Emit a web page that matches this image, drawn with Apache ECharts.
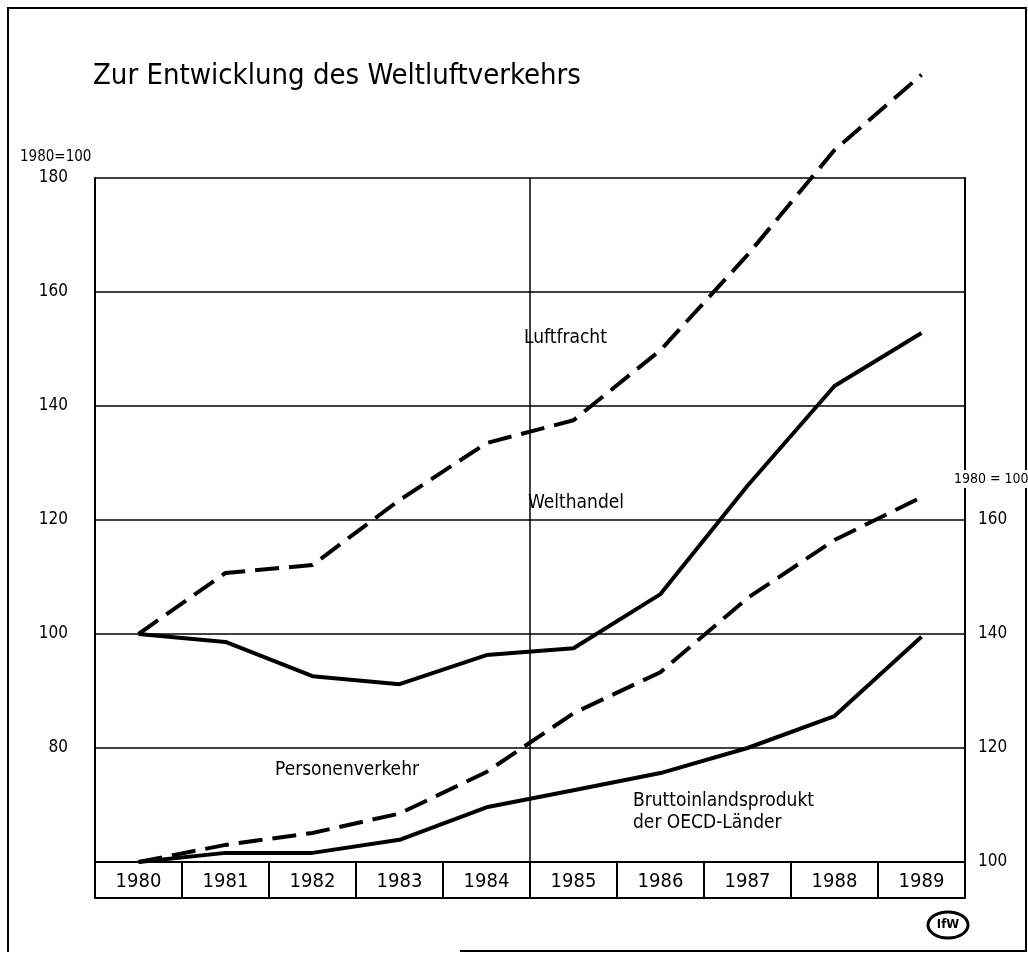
<!DOCTYPE html>
<html>
<head>
<meta charset="utf-8">
<script src="https://cdn.jsdelivr.net/npm/echarts@6/dist/echarts.min.js"></script>
<style>
html,body{margin:0;padding:0;background:#fff;}
#chart{width:1028px;height:954px;}
</style>
</head>
<body>
<div id="chart"></div>
<script>
// ---- data ----
const years = ['1980','1981','1982','1983','1984','1985','1986','1987','1988','1989'];
// left axis (1980=100)
const luftfracht  = [100, 110.7, 112.1, 123.5, 133.5, 137.5, 149.8, 166.5, 184.9, 198.1];
const welthandel  = [100, 98.6, 92.6, 91.2, 96.3, 97.5, 107.0, 126.0, 143.5, 152.8];
// right axis (1980=100)
const personenverkehr = [100, 103.0, 105.1, 108.5, 115.8, 126.1, 133.3, 146.3, 156.5, 164.0];
const bip             = [100, 101.6, 101.6, 103.9, 109.6, 112.6, 115.6, 120.0, 125.6, 139.5];
const leftTicks  = [60, 80, 100, 120, 140, 160, 180];
const rightTicks = [100, 120, 140, 160];

const FONT = '"Liberation Sans Narrow", "DejaVu Sans Condensed", "DejaVu Sans", sans-serif';
const chart = echarts.init(document.getElementById('chart'));

function lineSeries(name, data, yIdx, dashed){
  return {
    name: name, type: 'line', data: data, yAxisIndex: yIdx, xAxisIndex: 0,
    symbol: 'none', smooth: false, clip: false, silent: true,
    lineStyle: {color: '#000', width: 4, type: dashed ? [24, 10] : 'solid', cap: 'butt', join: 'round'},
    z: 5
  };
}

chart.setOption({
  animation: false,
  backgroundColor: '#fff',
  title: {
    text: 'Zur Entwicklung des Weltluftverkehrs',
    left: 88, top: 57,
    textStyle: {fontFamily: FONT, fontSize: 29, fontWeight: 'normal', color: '#000'}
  },
  grid: {left: 95, right: 63, top: 178, bottom: 92, containLabel: false},
  xAxis: [{
    type: 'category', data: years, boundaryGap: true, position: 'bottom',
    axisLine: {show: true, lineStyle: {color: '#000', width: 2}},
    axisTick: {show: true, interval: 0, length: 36, inside: false, lineStyle: {color: '#000', width: 2}},
    axisLabel: {show: true, interval: 0, margin: 10, fontFamily: FONT, fontSize: 20, color: '#000'},
    splitLine: {show: false}
  },{
    type: 'category', data: years, boundaryGap: true, position: 'bottom', offset: 36,
    axisLine: {show: true, lineStyle: {color: '#000', width: 2}},
    axisTick: {show: false}, axisLabel: {show: false}, splitLine: {show: false}
  },{
    // helper axis: only draws the single vertical divider between 1984 and 1985
    type: 'value', min: 0, max: years.length, interval: years.length / 2, position: 'top',
    axisLine: {show: false}, axisTick: {show: false}, axisLabel: {show: false},
    splitLine: {show: true, lineStyle: {color: '#000', width: 1.5}}
  }],
  yAxis: [{
    type: 'value', min: leftTicks[0], max: leftTicks[leftTicks.length-1], interval: 20, position: 'left',
    axisLine: {show: true, lineStyle: {color: '#000', width: 2}},
    axisTick: {show: false},
    axisLabel: {margin: 27, fontFamily: FONT, fontSize: 17, color: '#000',
      formatter: function(v){ return (v === leftTicks[0]) ? '' : String(v); }},
    splitLine: {show: true, lineStyle: {color: '#000', width: 1.5}}
  },{
    type: 'value', min: rightTicks[0], max: rightTicks[0] + 120, interval: 20, position: 'right',
    axisLine: {show: true, lineStyle: {color: '#000', width: 2}},
    axisTick: {show: false},
    axisLabel: {margin: 13, fontFamily: FONT, fontSize: 17, color: '#000',
      formatter: function(v){ return rightTicks.indexOf(v) >= 0 ? String(v) : ''; }},
    splitLine: {show: false}
  }],
  series: [
    lineSeries('Luftfracht', luftfracht, 0, true),
    lineSeries('Welthandel', welthandel, 0, false),
    lineSeries('Personenverkehr', personenverkehr, 1, true),
    lineSeries('Bruttoinlandsprodukt der OECD-Länder', bip, 1, false)
  ],
  graphic: [
    {type: 'polyline', silent: true, z: 1, shape: {points: [[8, 952], [8, 8], [1026, 8], [1026, 951], [460, 951]]},
      style: {stroke: '#000', lineWidth: 2, fill: null}},
    {type: 'text', left: 20, top: 150, style: {text: '1980=100', font: '15px ' + FONT, fill: '#000'}},
    {type: 'text', left: 954, top: 470, z: 10, style: {text: '1980 = 100', font: '14px ' + FONT, fill: '#000', backgroundColor: '#fff', padding: [2, 0, 2, 0]}},
    {type: 'text', left: 524, top: 329, style: {text: 'Luftfracht', font: '19px ' + FONT, fill: '#000'}},
    {type: 'text', left: 528, top: 494, style: {text: 'Welthandel', font: '19px ' + FONT, fill: '#000'}},
    {type: 'text', left: 275, top: 761, style: {text: 'Personenverkehr', font: '19px ' + FONT, fill: '#000'}},
    {type: 'text', left: 633, top: 790, style: {text: 'Bruttoinlandsprodukt\nder OECD-Länder', font: '19px ' + FONT, fill: '#000', lineHeight: 22}},
    {type: 'ellipse', silent: true, shape: {cx: 948, cy: 925, rx: 20, ry: 13}, style: {stroke: '#000', lineWidth: 3, fill: '#fff'}},
    {type: 'text', x: 948, y: 925, style: {text: 'IfW', font: 'bold 13px ' + FONT, fill: '#000', align: 'center', verticalAlign: 'middle'}}
  ]
});
</script>
</body>
</html>
